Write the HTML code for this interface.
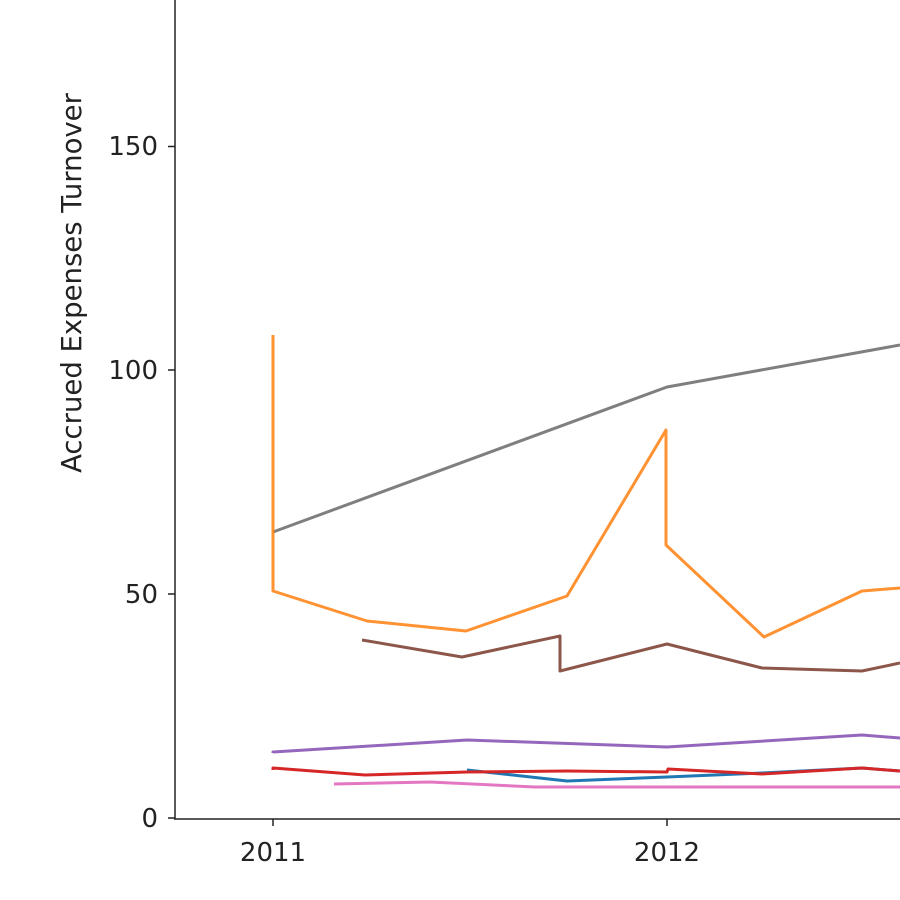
<!DOCTYPE html>
<html><head><meta charset="utf-8"><style>body{margin:0;background:#fff}svg{display:block}</style></head>
<body><svg width="900" height="900" viewBox="0 0 900 900" xmlns="http://www.w3.org/2000/svg" font-family="DejaVu Sans, Liberation Sans, sans-serif">
<rect width="900" height="900" fill="#fff"/>
<g fill="none" stroke-width="3" stroke-linejoin="round">
<polyline stroke="#7f7f7f" points="273,532 667,387 900,345"/>
<polyline stroke="#ff7f0e" stroke-opacity="0.85" points="273,335 273,591 367,621 466,631 567,596 666,430 666,545 764,637 862,591 900,588"/>
<polyline stroke="#8c564b" points="362,640 462,657 560,636 560,671 667,644 762,668 862,671 900,663"/>
<polyline stroke="#9467bd" points="273,753 273,752 467,740 667,747 862,735 900,738"/>
<polyline stroke="#e377c2" points="334,784 430,782 535,787 900,787"/>
<polyline stroke="#1f77b4" points="467,770 567,781 667,777 762,773 862,768 900,771"/>
<polyline stroke="#d62728" points="273,770 273,768 365,775 467,772 567,771 667,772 668,769 762,774 862,768 900,771"/>
</g>
<g stroke="#222" stroke-width="1.5" fill="none">
<line x1="175" y1="0" x2="175" y2="819"/>
<line x1="174" y1="819" x2="900" y2="819"/>
<line x1="168" y1="818" x2="175" y2="818"/>
<line x1="168" y1="594" x2="175" y2="594"/>
<line x1="168" y1="370" x2="175" y2="370"/>
<line x1="168" y1="146.5" x2="175" y2="146.5"/>
<line x1="273" y1="819" x2="273" y2="826"/>
<line x1="667" y1="819" x2="667" y2="826"/>
</g>
<g font-size="26" fill="#222" text-anchor="end">
<text x="158" y="827">0</text>
<text x="158" y="603">50</text>
<text x="158" y="379">100</text>
<text x="158" y="155">150</text>
</g>
<g font-size="26" fill="#222" text-anchor="middle">
<text x="273" y="861">2011</text>
<text x="667" y="861">2012</text>
<text transform="translate(81,283) rotate(-90)" font-size="27.5">Accrued Expenses Turnover</text>
</g>
</svg></body></html>
